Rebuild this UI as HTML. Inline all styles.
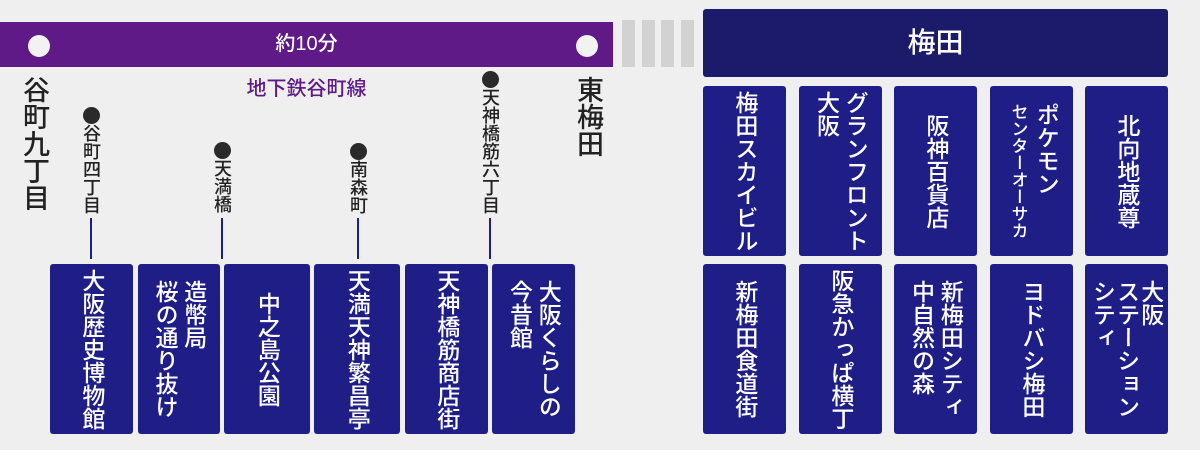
<!DOCTYPE html>
<html><head><meta charset="utf-8"><style>
body{margin:0;width:1200px;height:450px;background:#efefef;position:relative;overflow:hidden;font-family:"Liberation Sans","Noto Sans CJK JP",sans-serif;font-weight:500}
.a{position:absolute}
.bx{position:absolute;background:#1e1e86;border-radius:3px;color:#fff;display:flex;align-items:center;justify-content:center}
.v{writing-mode:vertical-rl;font-size:23px;line-height:1.25;white-space:nowrap}
.st{position:absolute;writing-mode:vertical-rl;font-size:18px;line-height:1;color:#222;white-space:nowrap}
.dot{position:absolute;width:17px;height:17px;border-radius:50%;background:#2a2a2a}
.ln{position:absolute;width:2px;background:#1e1e86}
.g{position:absolute;top:20px;width:13px;height:47px;background:#d2d2d2}
</style></head><body>
<div class="a" style="left:0;top:22px;width:613px;height:45px;background:#5f1a87"></div>
<div class="a" style="left:28px;top:35px;width:22px;height:22px;border-radius:50%;background:#f2f2f2"></div>
<div class="a" style="left:576px;top:35px;width:22px;height:22px;border-radius:50%;background:#f2f2f2"></div>
<div class="a" style="left:0;top:22px;width:613px;height:45px;line-height:45px;text-align:center;color:#fff;font-size:20px">約10分</div>
<div class="g" style="left:622px"></div><div class="g" style="left:642px"></div><div class="g" style="left:661px"></div><div class="g" style="left:681px"></div>
<div class="a" style="left:703px;top:9px;width:465px;height:68px;background:#1c1a6b;border-radius:3px;color:#fff;font-size:28px;line-height:68px;text-align:center">梅田</div>

<div class="a" style="left:0;top:72px;width:613px;text-align:center;color:#5f1a87;font-size:20px">地下鉄谷町線</div>
<div class="st" style="left:20px;top:76px;font-size:27px;color:#222">谷町九丁目</div>
<div class="st" style="left:574px;top:76px;font-size:27px;color:#222">東梅田</div>

<div class="dot" style="left:83px;top:107px"></div><div class="st" style="left:82px;top:124px">谷町四丁目</div><div class="ln" style="left:90px;top:218px;height:41px"></div>
<div class="dot" style="left:214px;top:142px"></div><div class="st" style="left:213px;top:159px">天満橋</div><div class="ln" style="left:221px;top:218px;height:41px"></div>
<div class="dot" style="left:350px;top:143px"></div><div class="st" style="left:349px;top:160px">南森町</div><div class="ln" style="left:357px;top:218px;height:41px"></div>
<div class="dot" style="left:482px;top:71px"></div><div class="st" style="left:481px;top:88px">天神橋筋六丁目</div><div class="ln" style="left:489px;top:218px;height:41px"></div>

<div class="bx" style="left:50px;top:264px;width:83px;height:170px"><div class="v">大阪歴史博物館</div></div>
<div class="bx" style="left:138px;top:264px;width:82px;height:170px"><div class="v">造幣局<br>桜の通り抜け</div></div>
<div class="bx" style="left:224px;top:264px;width:86px;height:170px"><div class="v">中之島公園</div></div>
<div class="bx" style="left:314px;top:264px;width:86px;height:170px"><div class="v">天満天神繁昌亭</div></div>
<div class="bx" style="left:405px;top:264px;width:83px;height:170px"><div class="v">天神橋筋商店街</div></div>
<div class="bx" style="left:492px;top:264px;width:83px;height:170px"><div class="v">大阪くらしの<br>今昔館</div></div>

<div class="bx" style="left:703px;top:86px;width:83px;height:170px"><div class="v">梅田スカイビル</div></div>
<div class="bx" style="left:799px;top:86px;width:83px;height:170px"><div class="v">グランフロント<br>大阪</div></div>
<div class="bx" style="left:894px;top:86px;width:83px;height:170px"><div class="v">阪神百貨店</div></div>
<div class="bx" style="left:990px;top:86px;width:83px;height:170px"><div class="v">ポケモン<br><span style="font-size:17px">センターオーサカ</span></div></div>
<div class="bx" style="left:1085px;top:86px;width:83px;height:170px"><div class="v">北向地蔵尊</div></div>

<div class="bx" style="left:703px;top:264px;width:83px;height:170px"><div class="v">新梅田食道街</div></div>
<div class="bx" style="left:799px;top:264px;width:83px;height:170px"><div class="v">阪急かっぱ横丁</div></div>
<div class="bx" style="left:894px;top:264px;width:83px;height:170px"><div class="v">新梅田シティ<br>中自然の森</div></div>
<div class="bx" style="left:990px;top:264px;width:83px;height:170px"><div class="v">ヨドバシ梅田</div></div>
<div class="bx" style="left:1085px;top:264px;width:83px;height:170px"><div class="v" style="line-height:1.05">大阪<br>ステーション<br>シティ</div></div>
</body></html>
